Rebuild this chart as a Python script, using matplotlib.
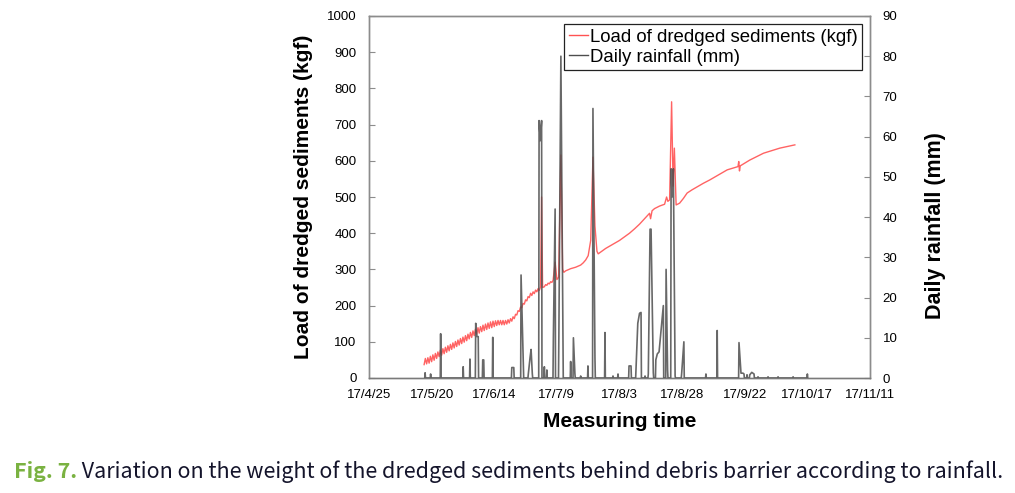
import datetime as dt
import numpy as np
import matplotlib
matplotlib.use("Agg")
import matplotlib.pyplot as plt
import matplotlib.dates as mdates
from matplotlib.lines import Line2D
from matplotlib.ticker import FixedLocator, FuncFormatter, MultipleLocator

# ---------------- data ----------------
start_date = "2017-04-25"          # day 0 of the measuring time axis
end_date = "2017-11-11"
tick_step_days = 25

# load of dredged sediments, half-day readings from day 22.0 (17/5/17)
load_early_start = 22.0
load_early_step = 0.5
load_early_kgf = [37, 54, 39, 56, 41, 60, 45, 64, 49, 68, 54, 72, 59, 77, 63, 81,
                  67, 85, 71, 89, 75, 93, 79, 97, 83, 101, 87, 105, 91, 109, 95, 113,
                  99, 117, 103, 121, 108, 126, 112, 130, 117, 135, 121, 139, 124, 142,
                  128, 146, 131, 149, 134, 152, 137, 155, 139, 157, 142, 158, 145, 159,
                  147, 159, 147, 159, 147, 159, 149, 161, 152, 164, 157, 169, 164, 176,
                  174, 186, 184, 196, 194, 206, 204, 216, 213, 225, 222, 234, 228, 238,
                  233, 243, 238, 247, 242, 252]
# later readings (day offset, kgf)
load_late_day = [68.9, 69.3, 70.0, 70.5, 71.0, 71.5, 72.0, 72.5, 73.0, 73.5,
                 74.3, 75.0, 75.7, 76.6, 77.3, 77.8, 78.5, 79.5, 80.5, 81.5,
                 82.5, 83.5, 84.5, 85.5, 86.5, 87.5, 88.5, 89.4, 90.2, 91.0,
                 91.5, 92.5, 93.5, 94.5, 95.5, 96.5, 98, 100, 102, 104,
                 106, 108, 110, 112, 112.4, 113, 114, 116, 118, 118.8,
                 119.3, 120, 120.8, 121.4, 121.9, 122.6, 124, 125.5, 127, 129,
                 131, 133.5, 136, 139.5, 143, 147.3, 147.6, 147.9, 148.2, 152,
                 157.5, 164, 170]
load_late_kgf = [500, 250, 252, 258, 256, 262, 260, 266, 264, 270,
                 320, 272, 278, 616, 300, 292, 296, 299, 302, 304,
                 306, 309, 312, 318, 326, 338, 380, 610, 420, 350,
                 343, 348, 353, 358, 362, 366, 372, 380, 390, 400,
                 412, 425, 440, 455, 440, 462, 468, 475, 480, 500,
                 488, 492, 763, 530, 635, 478, 483, 496, 511, 520,
                 528, 538, 547, 561, 575, 584, 598, 572, 586, 602,
                 621, 635, 644]

# daily rainfall events (day offset, mm)
rain_day = [22.4, 24.6, 28.6, 37.6, 40.3, 42.6, 43.1, 43.6, 45.4, 45.8,
            49.4, 57.0, 57.8, 60.7, 61.6, 63.6, 64.3, 64.7, 65.2, 67.9,
            68.4, 68.9, 70.0, 71.0, 73.6, 74.3, 75.8, 76.6, 77.4, 80.5,
            81.6, 82.2, 84.5, 87.4, 89.4, 90.2, 94.2, 97.4, 99.4, 103.8,
            104.6, 106.6, 107.3, 108.0, 108.6, 110.2, 111.5, 112.2, 112.6, 113.5,
            114.5, 115.1, 115.8, 116.6, 117.5, 118.6, 119.2, 120.6, 121.0, 121.5,
            122.2, 124.8, 125.7, 134.5, 139.0, 147.7, 148.5, 149.3, 149.7, 150.9,
            152.0, 152.8, 153.7, 155.3, 159.3, 163.3, 169.3, 175.0]
rain_mm = [1.3, 1.0, 11.0, 2.8, 4.7, 13.6, 10.3, 10.3, 4.5, 4.5,
           10.1, 2.6, 2.6, 25.6, 2.8, 1.0, 5.1, 7.1, 1.0, 64,
           59, 64, 2.8, 2.0, 10, 42, 11, 80, 11, 4.1,
           10, 1, 0.5, 3, 67, 5, 11.3, 0.5, 1, 3,
           3, 2.5, 13.6, 16.1, 16.3, 0.5, 1, 37, 37, 1.3,
           4.5, 6, 6.5, 12, 18, 27, 2, 52, 45, 52,
           0.5, 1, 9, 1, 11.8, 8.8, 1.2, 1.2, 1, 0.8,
           0.8, 1.4, 1, 0.3, 0.3, 0.3, 0.3, 1]

label_load = "Load of dredged sediments (kgf)"
label_rain = "Daily rainfall (mm)"
xlabel = "Measuring time"
caption_head = "Fig. 7."
caption_body = " Variation on the weight of the dredged sediments behind debris barrier according to rainfall."

# ---------------- build series ----------------
t0 = mdates.date2num(dt.datetime.strptime(start_date, "%Y-%m-%d"))
t1 = mdates.date2num(dt.datetime.strptime(end_date, "%Y-%m-%d"))

early_day = load_early_start + load_early_step * np.arange(len(load_early_kgf))
load_x = t0 + np.concatenate([early_day, np.array(load_late_day)])
load_y = np.concatenate([np.array(load_early_kgf, float), np.array(load_late_kgf, float)])

# rainfall trace: consecutive events closer than one day are joined,
# otherwise the trace returns to zero between them
rx, ry = [], []
half = 0.15
for i, (d, v) in enumerate(zip(rain_day, rain_mm)):
    if i == 0 or d - rain_day[i - 1] >= 1.0:
        rx.append(d - half); ry.append(0.0)
    rx.append(d); ry.append(v)
    if i == len(rain_day) - 1 or rain_day[i + 1] - d >= 1.0:
        rx.append(d + half); ry.append(0.0)
rain_x = t0 + np.array(rx)
rain_y = np.array(ry)

# ---------------- figure ----------------
W, H = 1015, 493
fig = plt.figure(figsize=(W / 100, H / 100), dpi=100)
fig.patch.set_facecolor("white")
L, R, T, B = 369, 870, 16, 378
ax = fig.add_axes([L / W, 1 - B / H, (R - L) / W, (B - T) / H])
ax2 = ax.twinx()

tick_font = "Liberation Sans"
red = "#ff5252"
grey = "#4d4d4d"

ax.plot(load_x, load_y, color=red, lw=1.0, alpha=0.9, zorder=2)
ax2.plot(rain_x, rain_y, color=grey, lw=1.2, alpha=0.85, zorder=3)

ax.set_xlim(t0, t1)
ax.set_ylim(0, 1000)
ax2.set_ylim(0, 90)
ax.yaxis.set_major_locator(MultipleLocator(100))
ax2.yaxis.set_major_locator(MultipleLocator(10))
xt = np.arange(t0, t1 + 0.5, tick_step_days)
ax.xaxis.set_major_locator(FixedLocator(xt))

def fmt_date(x, pos):
    d = mdates.num2date(x)
    return f"{d.year % 100}/{d.month}/{d.day}"

ax.xaxis.set_major_formatter(FuncFormatter(fmt_date))

for a in (ax, ax2):
    for s in a.spines.values():
        s.set_color("#8c8c8c")
        s.set_linewidth(1.0)
ax2.spines["bottom"].set_color("#7a7a7a")

ax.tick_params(axis="y", direction="in", length=4, width=0.8, color="#8c8c8c",
               pad=9, labelsize=9.5)
ax2.tick_params(axis="y", direction="in", length=4, width=0.8, color="#8c8c8c",
                pad=9, labelsize=9.5)
ax.tick_params(axis="x", length=0, pad=8, labelsize=9.5)
for lab in ax.get_xticklabels() + ax.get_yticklabels() + ax2.get_yticklabels():
    lab.set_fontfamily(tick_font)

ax.set_xlabel(xlabel, fontsize=15, fontweight="bold", fontfamily=tick_font, labelpad=8)
ax.set_ylabel(label_load, fontsize=15, fontweight="bold", fontfamily=tick_font, labelpad=10)
ax2.set_ylabel(label_rain, fontsize=15.5, fontweight="bold", fontfamily=tick_font)
ax2.yaxis.set_label_coords((925 - L) / (R - L), (B - 226) / (B - T))

handles = [Line2D([], [], color=red, lw=1.0), Line2D([], [], color=grey, lw=1.0)]
leg = ax2.legend(handles, [label_load, label_rain], loc="upper right",
                 bbox_to_anchor=((862 - L) / (R - L), (B - 24) / (B - T)),
                 borderaxespad=0, frameon=True, fancybox=False, framealpha=1,
                 edgecolor="#222222", handlelength=1.0, handletextpad=0.1,
                 borderpad=0.25, labelspacing=0.15,
                 prop={"family": tick_font, "size": 13.4})
leg.get_frame().set_linewidth(0.9)
leg.set_zorder(10)

# ---------------- caption ----------------
cap_font = ["Noto Sans CJK KR", "Noto Sans"]
fig.canvas.draw()
renderer = fig.canvas.get_renderer()
t_head = fig.text(14 / W, 1 - 478 / H, caption_head, color="#7ab241",
                  fontsize=18, fontfamily=cap_font, fontweight="bold",
                  va="baseline", ha="left")
t_body = fig.text(0, 1 - 478 / H, caption_body, color="#14142b",
                  fontsize=18, fontfamily=cap_font, va="baseline", ha="left")
# fit the caption width to the reference (14 px .. 1000 px)
w_head = t_head.get_window_extent(renderer).width
w_body = t_body.get_window_extent(renderer).width
scale = (1000 - 14) / (w_head + w_body)
size = 18 * scale
t_head.set_fontsize(size)
t_body.set_fontsize(size)
w_head = t_head.get_window_extent(renderer).width
t_body.set_x((14 + w_head) / W)

fig.savefig("out.png", dpi=100, facecolor="white")
